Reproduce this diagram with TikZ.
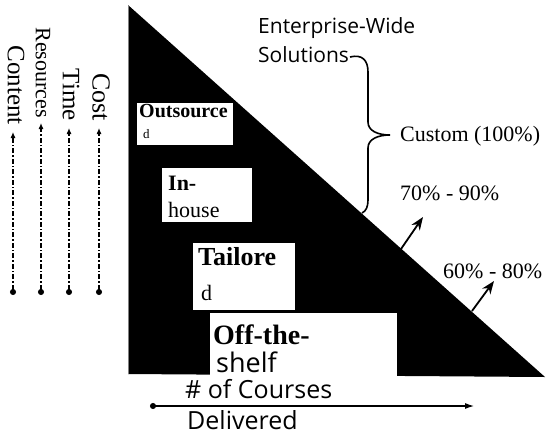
\documentclass[tikz,border=0pt]{standalone}
\usepackage{fontspec}
\setmainfont{Liberation Serif}
\newfontfamily\optima{Open Sans}
\usetikzlibrary{arrows.meta}
\begin{document}
\begin{tikzpicture}[x=1pt,y=-1pt,
  lbl/.style={inner sep=0pt, anchor=base west},
  vlabel/.style={rotate=-90, anchor=east, inner sep=0pt},
  vaxis/.style={line width=1.1pt, dash pattern=on 5pt off 2pt on 1.5pt off 2pt,
     {Circle[length=6pt,sep=0pt]}-{Latex[length=6pt,width=5pt]}},
  hyparrow/.style={line width=1.8pt, -{Stealth[length=13pt,width=10pt]}},
  whitebox/.style={fill=white}]
\useasboundingbox (0,0) rectangle (553,434);

% big triangle
\fill[black] (128,5) -- (545,377) -- (128,374) -- cycle;
\draw[gray, line width=0.6pt] (128,5) -- (128,374);

% white label boxes
\fill[whitebox] (137,103) rectangle (233,145);
\fill[whitebox] (162,168) rectangle (252,222);
\fill[whitebox] (193,243) rectangle (295,310);
\fill[whitebox] (210,313) rectangle (397,378);

% box texts
\node[lbl, font=\fontsize{20}{20}\selectfont\bfseries] (b1a) at (139,117) {Outsource};
\node[lbl, font=\fontsize{13}{13}\selectfont] (b1b) at (143,138) {d};
\node[lbl, font=\fontsize{22}{22}\selectfont\bfseries] (b2a) at (168,190) {In-};
\node[lbl, font=\fontsize{22}{22}\selectfont] (b2b) at (168,217) {house};
\node[lbl, font=\fontsize{26}{26}\selectfont\bfseries] (b3a) at (198,265) {Tailore};
\node[lbl, font=\fontsize{22}{22}\selectfont] (b3b) at (201,300) {d};
\node[lbl, font=\fontsize{28}{28}\selectfont\bfseries] (b4a) at (213,344) {Off-the-};
\node[lbl, font=\optima\fontsize{27}{27}\selectfont] (b4b) at (216,372) {shelf};

% top-right texts
\node[lbl, font=\optima\fontsize{21}{21}\selectfont] (ent) at (258,33) {Enterprise-Wide};
\node[lbl, font=\optima\fontsize{21}{21}\selectfont] (sol) at (258,62) {Solutions};
\node[lbl, font=\fontsize{22}{22}\selectfont] (custom) at (400,141) {Custom (100\%)};
\node[lbl, font=\fontsize{22}{22}\selectfont] (p1) at (400,200) {70\% - 90\%};
\node[lbl, font=\fontsize{22}{22}\selectfont] (p2) at (443,278) {60\% - 80\%};

% brace
\coordinate (brtop) at (350,57);
\coordinate (brbot) at (362,213);
\draw[line width=1.6pt] (brtop) .. controls (362,54) and (368,60) .. (368,72)
  -- (368,122) .. controls (368,131) and (378,135) .. (390,135)
  .. controls (378,135) and (368,139) .. (368,148)
  -- (368,200) .. controls (368,207) and (366,211) .. (brbot);

% arrows from hypotenuse
\coordinate (a1s) at (401,249);
\coordinate (a1e) at (423,217);
\coordinate (a2s) at (472,311);
\coordinate (a2e) at (494,281);
\draw[hyparrow] (a1s) -- (a1e);
\draw[hyparrow] (a2s) -- (a2e);

% vertical labels and axes
\node[vlabel, font=\fontsize{26}{26}\selectfont] (cost) at (101,121) {Cost};
\node[vlabel, font=\fontsize{25}{25}\selectfont] (time) at (71,121) {Time};
\node[vlabel, font=\fontsize{22}{22}\selectfont] (res) at (43,118) {Resources};
\node[vlabel, font=\fontsize{25}{25}\selectfont] (cont) at (16,125) {Content};
\coordinate (costtip) at (99,128);
\coordinate (timetip) at (69,128);
\coordinate (restip) at (41,123);
\coordinate (conttip) at (13,132);
\coordinate (costdot) at (99,295);
\coordinate (timedot) at (69,295);
\coordinate (resdot) at (41,295);
\coordinate (contdot) at (13,295);
\draw[vaxis] (costdot) -- (costtip);
\draw[vaxis] (timedot) -- (timetip);
\draw[vaxis] (resdot) -- (restip);
\draw[vaxis] (contdot) -- (conttip);

% horizontal axis
\node[lbl, font=\optima\fontsize{25}{25}\selectfont] (courses) at (185,398) {\# of Courses};
\node[lbl, font=\optima\fontsize{25}{25}\selectfont] (deliv) at (187,429) {Delivered};
\coordinate (hdot) at (150,406);
\coordinate (htip) at (474,406);
\draw[line width=1.1pt, {Circle[length=6pt]}-{Latex[length=9pt,width=6pt]}] (hdot) -- (htip);
\end{tikzpicture}
\end{document}
